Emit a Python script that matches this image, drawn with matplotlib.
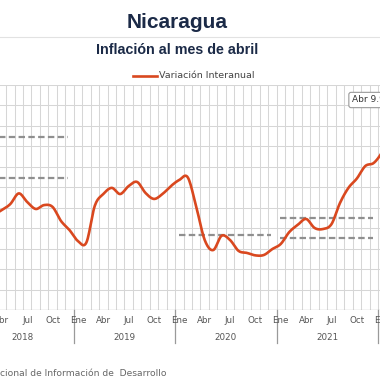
import matplotlib
matplotlib.use("Agg")
import matplotlib.pyplot as plt
from matplotlib.lines import Line2D
import numpy as np

# ---------------- data ----------------
# monthly interannual inflation (%), Jan 2018 .. Apr 2022
months_2018 = [5.30, 4.95, 4.70, 4.89, 5.18, 5.70, 5.28, 4.94, 5.13, 5.04, 4.35, 3.91]
months_2019 = [3.37, 3.30, 5.10, 5.67, 5.97, 5.67, 6.06, 6.26, 5.72, 5.43, 5.67, 6.06]
months_2020 = [6.36, 6.48, 5.04, 3.42, 2.93, 3.63, 3.42, 2.89, 2.79, 2.67, 2.69, 2.98]
months_2021 = [3.23, 3.81, 4.16, 4.45, 4.01, 3.96, 4.20, 5.23, 5.97, 6.43, 7.04, 7.19]
months_2022 = [7.73, 8.60, 9.30, 9.90]
values = months_2018 + months_2019 + months_2020 + months_2021 + months_2022

years = [2018, 2019, 2020, 2021]
month_labels = ["Ene", "Abr", "Jul", "Oct"]
# reference bands (dashed) per year
ref_lines = {2018: [8.47, 6.47], 2020: [3.69], 2021: [4.51, 3.50]}

series_name = "Variación Interanual"
title = "Nicaragua"
subtitle = "Inflación al mes de abril"
source = "cional de Información de  Desarrollo"
last_label = "Abr 9.9"

# ---------------- figure ----------------
W = H = 380
fig = plt.figure(figsize=(3.8, 3.8), dpi=100)
fig.patch.set_facecolor("white")

orange = "#d9481f"
grid_c = "#d6d6d6"

top_px, bot_px = 85, 310
ax = fig.add_axes([0, 1 - bot_px / H, 1, (bot_px - top_px) / H])
ax.set_xlim(3.281, 48.236)
ax.set_ylim(0, 11)
for s in ax.spines.values():
    s.set_visible(False)
ax.set_xticks([])
ax.set_yticks([])

# grid
for m in range(0, 50):
    ax.axvline(m, color=grid_c, lw=0.75, zorder=0)
for v in range(0, 12):
    ax.axhline(v, color=grid_c, lw=0.75, zorder=0)
ax.axhline(0, color="#a8a8a8", lw=0.9, zorder=1)

# dashed reference lines
for yr, levels in ref_lines.items():
    m0 = (yr - 2018) * 12
    for lv in levels:
        ax.plot([m0 + 0.45, m0 + 11.35], [lv, lv], color="#8f8f8f", lw=1.6,
                ls=(0, (2.9, 1.5)), zorder=2)

# smooth line through monthly points
x = np.arange(len(values)) + 0.5
y = np.array(values)
xs, ys = [], []
P = np.column_stack([x, y])
P = np.vstack([P[0] - (P[1] - P[0]), P, P[-1] + (P[-1] - P[-2])])
for i in range(1, len(P) - 2):
    p0, p1, p2, p3 = P[i - 1], P[i], P[i + 1], P[i + 2]
    t = np.linspace(0, 1, 12, endpoint=False)[:, None]
    seg = 0.5 * ((2 * p1) + (-p0 + p2) * t + (2 * p0 - 5 * p1 + 4 * p2 - p3) * t ** 2
                 + (-p0 + 3 * p1 - 3 * p2 + p3) * t ** 3)
    xs.append(seg[:, 0]); ys.append(seg[:, 1])
xs = np.concatenate(xs + [[x[-1]]]); ys = np.concatenate(ys + [[y[-1]]])
ax.plot(xs, ys, color=orange, lw=1.9, zorder=3, solid_capstyle="round",
        solid_joinstyle="round")

# month and year labels
xt = ax.get_xaxis_transform()
lab_y = (bot_px - 320.7) / (bot_px - top_px)
year_y = (bot_px - 337.7) / (bot_px - top_px)
sep_y = (bot_px - 343) / (bot_px - top_px)
for yr in years + [2022]:
    m0 = (yr - 2018) * 12
    ax.plot([m0, m0], [0, sep_y], transform=xt, color="#9a9a9a", lw=0.9,
            clip_on=False, zorder=1)
    for k, lab in enumerate(month_labels):
        mx = m0 + k * 3 + 0.5
        if 3.0 <= mx <= 49:
            ax.text(mx, lab_y, lab, transform=xt, ha="center", va="center",
                    fontsize=6.3, color="#555555", family="DejaVu Sans",
                    clip_on=False)
for yr in years:
    m0 = (yr - 2018) * 12
    ax.text(m0 + 6, year_y, str(yr), transform=xt, ha="center", va="center",
            fontsize=6.3, color="#555555", family="DejaVu Sans")

# last point label box
ax.text(352 / W, 1 - (100 - top_px) / (bot_px - top_px), last_label,
        transform=ax.transAxes, ha="left", va="center", fontsize=6.5,
        color="#333333", family="DejaVu Sans", zorder=5,
        bbox=dict(boxstyle="round,pad=0.35,rounding_size=0.25",
                  fc="white", ec="#999999", lw=0.8))

# titles
fig.text(177.5 / W, 1 - 23 / H, title, ha="center", va="center", fontsize=15,
         fontweight="bold", color="#1b2a47", family="Liberation Sans")
fig.add_artist(Line2D([0, 1], [1 - 37 / H, 1 - 37 / H], color="#e2e2e2", lw=0.8))
fig.text(177.5 / W, 1 - 50 / H, subtitle, ha="center", va="center", fontsize=10.3,
         fontweight="bold", color="#1b2a47", family="Liberation Sans")

# legend
fig.add_artist(Line2D([133 / W, 157 / W], [1 - 75.5 / H, 1 - 75.5 / H],
                      color=orange, lw=1.9))
fig.text(159 / W, 1 - 75.5 / H, series_name, ha="left", va="center",
         fontsize=6.8, color="#444444", family="DejaVu Sans")

# source
fig.text(0.0, 1 - 373 / H, source, ha="left", va="center", fontsize=6.6,
         color="#666666", family="DejaVu Sans")

fig.savefig("out.png", dpi=100, facecolor="white")
